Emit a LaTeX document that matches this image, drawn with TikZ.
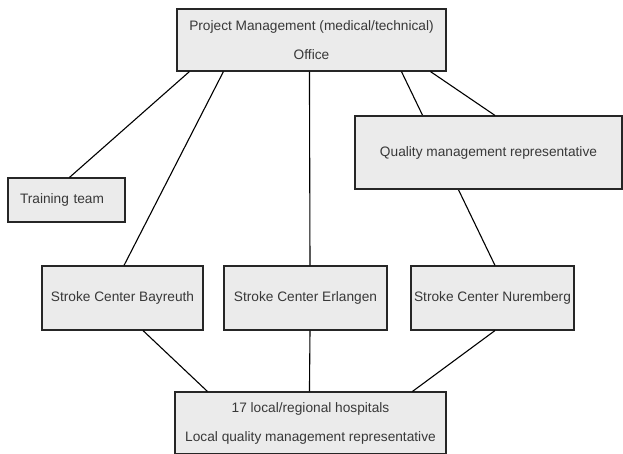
\documentclass[tikz,border=0pt]{standalone}
\usepackage{fontspec}
\setmainfont{Liberation Sans}
\begin{document}
\begin{tikzpicture}[x=1pt,y=-1pt,
  box/.style={draw=black!85,line width=1.1pt,fill=black!8,inner sep=0pt,text=black!78,font=\fontsize{13.7pt}{16pt}\selectfont,align=center},
  link/.style={line width=1.1pt,black}]
\useasboundingbox (0,0) rectangle (623,454);
% nodes
\node[box,minimum width=269pt,minimum height=62pt] (top) at (311.5,40) {Project Management (medical/technical)\\[13pt]Office};
\node[box,minimum width=117pt,minimum height=44pt,text width=93pt,align=left] (training) at (66.5,200) {Training team};
\node[box,minimum width=161pt,minimum height=64pt] (bay) at (122.5,298) {Stroke Center Bayreuth};
\node[box,minimum width=163pt,minimum height=64pt] (erl) at (305.5,298) {Stroke Center Erlangen};
\node[box,minimum width=163pt,minimum height=64pt] (nur) at (492.5,298) {Stroke Center Nuremberg};
\node[box,minimum width=271pt,minimum height=62pt] (bot) at (310.5,423) {17 local/regional hospitals\\[13pt]Local quality management representative};
% connector partly hidden behind the quality box
\draw[link] ([xshift=225pt]top.south west) -- ([xshift=2.5pt]nur.north);
\node[box,minimum width=267pt,minimum height=73pt] (qual) at (488.5,152.5) {Quality management representative};
% connectors
\draw[link] ([xshift=13pt]top.south west) -- ([xshift=62pt]training.north west);
\draw[link] ([xshift=47pt]top.south west) -- ([xshift=1.5pt]bay.north);
\draw[link] ([xshift=133pt]top.south west) -- ([xshift=4.5pt]erl.north);
\draw[link] ([xshift=254pt]top.south west) -- ([xshift=6.5pt]qual.north);
\draw[link] ([xshift=20.5pt]bay.south) -- ([xshift=33pt]bot.north west);
\draw[link] ([xshift=4.5pt]erl.south) -- ([xshift=135pt]bot.north west);
\draw[link] ([xshift=2.5pt]nur.south) -- ([xshift=238pt]bot.north west);
\end{tikzpicture}
\end{document}
